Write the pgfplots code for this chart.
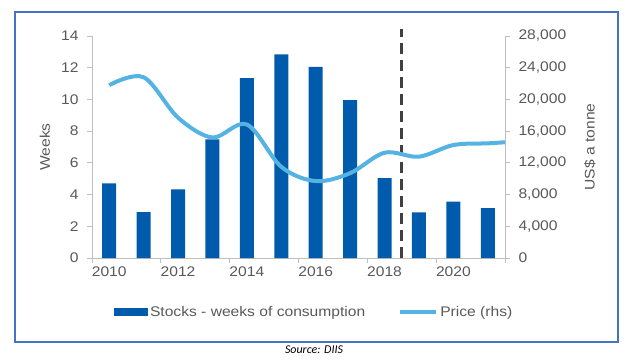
\documentclass[border=0pt]{standalone}
\usepackage{fontspec}
\setmainfont{Liberation Sans}[FakeStretch=1.12]
\newfontfamily\srcfont{Carlito}
\usepackage{pgfplots}
\pgfplotsset{compat=1.18}
\definecolor{barblue}{HTML}{005BAC}
\definecolor{lineblue}{HTML}{55B3E3}
\definecolor{axgray}{HTML}{BFBFBF}
\definecolor{txtgray}{HTML}{595959}
\definecolor{frameblue}{HTML}{4472C4}
\definecolor{dashgray}{HTML}{404040}
\begin{document}
\begin{tikzpicture}
\pgfplotsset{
 common/.style={
  scale only axis, width=413bp, height=222bp,
  at={(0,0)}, anchor=south west,
  xmin=2009.5, xmax=2021.5,
  axis line style={axgray, line width=0.8bp},
  tick style={axgray, line width=0.8bp},
  tick align=outside,
  major tick length=5bp,
  minor tick length=5bp,
  ticklabel style={font=\fontsize{14}{16}\selectfont, text=txtgray},
  label style={font=\fontsize{14}{16}\selectfont, text=txtgray},
  /pgf/number format/assume math mode=true,
 }
}
\begin{axis}[common,
  axis x line*=bottom, axis y line*=left,
  ymin=0, ymax=14, ytick={0,2,...,14},
  yticklabel style={xshift=-5bp},
  xtick={2010,2012,...,2020},
  xticklabels={2010,2012,2014,2016,2018,2020},
  major x tick style={draw=none},
  minor xtick={2009.5,2011.5,...,2021.5},
  ylabel={Weeks},
  ylabel style={at={(axis description cs:-0.1138,0.5)}, anchor=center},
  ybar, bar width=14bp,
  clip=false,
  legend style={draw=none, fill=none, at={(0.538,-0.245)}, anchor=center,
    legend columns=2, font=\fontsize{14}{16}\selectfont, text=txtgray,
    /tikz/every even column/.append style={column sep=31bp}},
]
\addplot[fill=barblue, draw=none,
  legend image code/.code={\fill[barblue] (0bp,-4bp) rectangle (34bp,4bp);}]
  coordinates {
  (2010,4.71) (2011,2.90) (2012,4.33) (2013,7.48) (2014,11.35) (2015,12.84)
  (2016,12.06) (2017,9.96) (2018,5.04) (2019,2.88) (2020,3.55) (2021,3.15)};
\addlegendentry{Stocks - weeks of consumption}
\addlegendimage{legend image code/.code={\draw[lineblue, line width=4bp] (0bp,0bp) -- (36bp,0bp);}}
\addlegendentry{Price (rhs)}
\end{axis}
\begin{axis}[common,
  axis x line=none, axis y line*=right,
  ymin=0, ymax=28000, ytick={0,4000,...,28000},
  scaled y ticks=false,
  yticklabel style={xshift=5bp, /pgf/number format/fixed, /pgf/number format/1000 sep={,}},
  ylabel={US\$ a tonne},
  ylabel style={at={(axis description cs:1.2058,0.5)}, anchor=center},
  clip=false,
]
\addplot[dashgray, line width=3bp, dash pattern=on 11bp off 6bp]
  coordinates {(2018.5,0) (2018.5,28880)};
\addplot[lineblue, line width=4bp, smooth, tension=0.55]
  coordinates {
  (2010,21800) (2011,22800) (2012,17700) (2013,15200) (2014,16840)
  (2015,11500) (2016,9700) (2017,10700) (2018,13280) (2019,12780)
  (2020,14250) (2021,14460) (2021.5,14600)};
\end{axis}
\draw[frameblue, line width=1.5bp] (-77bp,-84bp) rectangle (526bp,246bp);
\node[font=\srcfont\itshape\fontsize{12}{14}\selectfont] at (222bp,-92bp) {Source: DIIS};
\pgfresetboundingbox
\useasboundingbox (-92bp,-103bp) rectangle (541bp,258bp);
\end{tikzpicture}
\end{document}
